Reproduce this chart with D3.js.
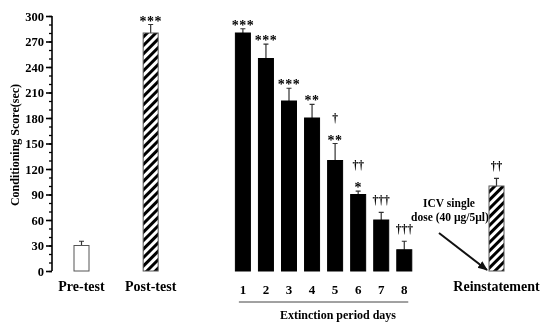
<!DOCTYPE html>
<html>
<head>
<meta charset="utf-8">
<script src="https://cdn.jsdelivr.net/npm/d3@7"></script>
<style>
  body { margin: 0; background: #fff; }
  svg { filter: grayscale(1); }
  text { font-family: "Liberation Serif", "DejaVu Serif", serif; font-weight: bold; fill: #000; }
</style>
</head>
<body>
<script>
// data
const groups = ["Pre-test", "Post-test", "1", "2", "3", "4", "5", "6", "7", "8", "Reinstatement"]
const scores = [30, 280, 280, 250, 200, 180, 130, 90, 60, 25, 100]
const errors = [5, 10, 5, 17, 15, 16, 20, 4, 9, 10, 9]
const stars = ["", "***", "***", "***", "***", "**", "**", "*", "", "", ""]
const daggers = ["", "", "", "", "", "", "†", "††", "†††", "†††", "††"]
const fills = ["white", "hatch", "black", "black", "black", "black", "black", "black", "black", "black", "hatch"]
const yTicks = [0, 30, 60, 90, 120, 150, 180, 210, 240, 270, 300]

// slot of each group along the x axis (gaps between phases)
const slots = [-7, -4, 0, 1, 2, 3, 4, 5, 6, 7, 11]

var width = 541,
    height = 323;

var svg = d3.select("body")
    .append("svg")
    .attr("width", width)
    .attr("height", height);

var defs = svg.append("defs");
var pat = defs.append("pattern")
    .attr("id", "hatch")
    .attr("patternUnits", "userSpaceOnUse")
    .attr("width", 6)
    .attr("height", 6)
    .attr("patternTransform", "rotate(45)");
pat.append("rect").attr("width", 6).attr("height", 6).attr("fill", "white");
pat.append("rect").attr("width", 3).attr("height", 6).attr("fill", "black");

var x = d3.scaleLinear().domain([-7, 11]).range([81.5, 496.5]);
var y = d3.scaleLinear().domain([0, 300]).range([271, 16]);
var barW = 15;

// y axis with minor ticks
var axisX = 52;
svg.append("g")
    .attr("transform", `translate(${axisX},0)`)
    .call(d3.axisLeft(y).tickValues(d3.range(0, 301, 10)).tickSize(3).tickFormat(""))
    .call(g => g.select(".domain").remove())
    .selectAll("line").attr("stroke", "#000").attr("stroke-width", 1.3);

svg.append("g")
    .attr("transform", `translate(${axisX},0)`)
    .call(d3.axisLeft(y).tickValues(yTicks).tickSize(6).tickPadding(2))
    .call(g => g.select(".domain").attr("d", `M0,${y(300)}V${y(0)}`).attr("stroke-width", 1.6))
    .call(g => g.selectAll("line").attr("stroke-width", 1.6))
    .call(g => g.selectAll("text")
        .style("font-family", "Liberation Serif")
        .style("font-weight", "bold")
        .style("font-size", "12.5px"));

svg.append("text")
    .attr("transform", "translate(19,145) rotate(-90)")
    .attr("text-anchor", "middle")
    .style("font-size", "12px")
    .text("Conditioning Score(sec)");

var data = groups.map((g, i) => ({
    name: g, slot: slots[i], v: scores[i], e: errors[i],
    star: stars[i], dag: daggers[i], fill: fills[i]
}));

// error bars (drawn first so bar covers lower part)
svg.selectAll(".err")
    .data(data)
    .join("path")
    .attr("class", "err")
    .attr("d", d => {
        var cx = x(d.slot);
        return `M${cx},${y(d.v)}V${y(d.v + d.e)}M${cx - 2.5},${y(d.v + d.e)}H${cx + 2.5}`;
    })
    .attr("stroke", "#333")
    .attr("stroke-width", 1.2)
    .attr("fill", "none");

svg.selectAll(".bar")
    .data(data)
    .join("rect")
    .attr("class", "bar")
    .attr("x", d => x(d.slot) - barW / 2)
    .attr("y", d => y(d.v))
    .attr("width", barW)
    .attr("height", d => y(0) - y(d.v))
    .attr("fill", d => d.fill == "hatch" ? "url(#hatch)" : d.fill)
    .attr("stroke", d => d.fill == "black" ? "#000" : "#555")
    .attr("stroke-width", 1);

// significance marks
svg.selectAll(".star")
    .data(data.filter(d => d.star))
    .join("text")
    .attr("class", "star")
    .attr("x", d => x(d.slot))
    .attr("y", d => y(d.v + d.e) + 1)
    .attr("text-anchor", "middle")
    .style("font-size", "14px")
    .style("letter-spacing", "0.5px")
    .text(d => d.star);

svg.selectAll(".dag")
    .data(data.filter(d => d.dag))
    .join("text")
    .attr("class", "dag")
    .attr("x", d => x(d.slot))
    .attr("y", d => y(d.v + d.e) - (d.star ? 22 : 8))
    .attr("text-anchor", "middle")
    .style("font-size", "11.5px")
    .text(d => d.dag);

// x labels
svg.selectAll(".xl")
    .data(data)
    .join("text")
    .attr("class", "xl")
    .attr("x", d => x(d.slot))
    .attr("y", d => d.name.length > 1 ? 291 : 294)
    .attr("text-anchor", "middle")
    .style("font-size", d => d.name.length > 1 ? "14px" : "13px")
    .text(d => d.name);

svg.append("line")
    .attr("x1", x(0) - 4).attr("x2", x(7) + 4)
    .attr("y1", 302).attr("y2", 302)
    .attr("stroke", "#444").attr("stroke-width", 1);

svg.append("text")
    .attr("x", 338)
    .attr("y", 319)
    .attr("text-anchor", "middle")
    .style("font-size", "12px")
    .text("Extinction period days");

// annotation with arrow
var note = svg.append("text")
    .attr("text-anchor", "middle")
    .style("font-size", "11.5px");
note.append("tspan").attr("x", 449).attr("y", 207).text("ICV single");
note.append("tspan").attr("x", 450).attr("y", 221).text("dose (40 µg/5µl)");

defs.append("marker")
    .attr("id", "arrow")
    .attr("viewBox", "0 0 10 10")
    .attr("refX", 9).attr("refY", 5)
    .attr("markerWidth", 5).attr("markerHeight", 5)
    .attr("orient", "auto")
    .append("path").attr("d", "M0,1L10,5L0,9Z").attr("fill", "#111");

svg.append("line")
    .attr("x1", 439).attr("y1", 233)
    .attr("x2", 487).attr("y2", 270)
    .attr("stroke", "#111").attr("stroke-width", 2)
    .attr("marker-end", "url(#arrow)");
</script>
</body>
</html>
